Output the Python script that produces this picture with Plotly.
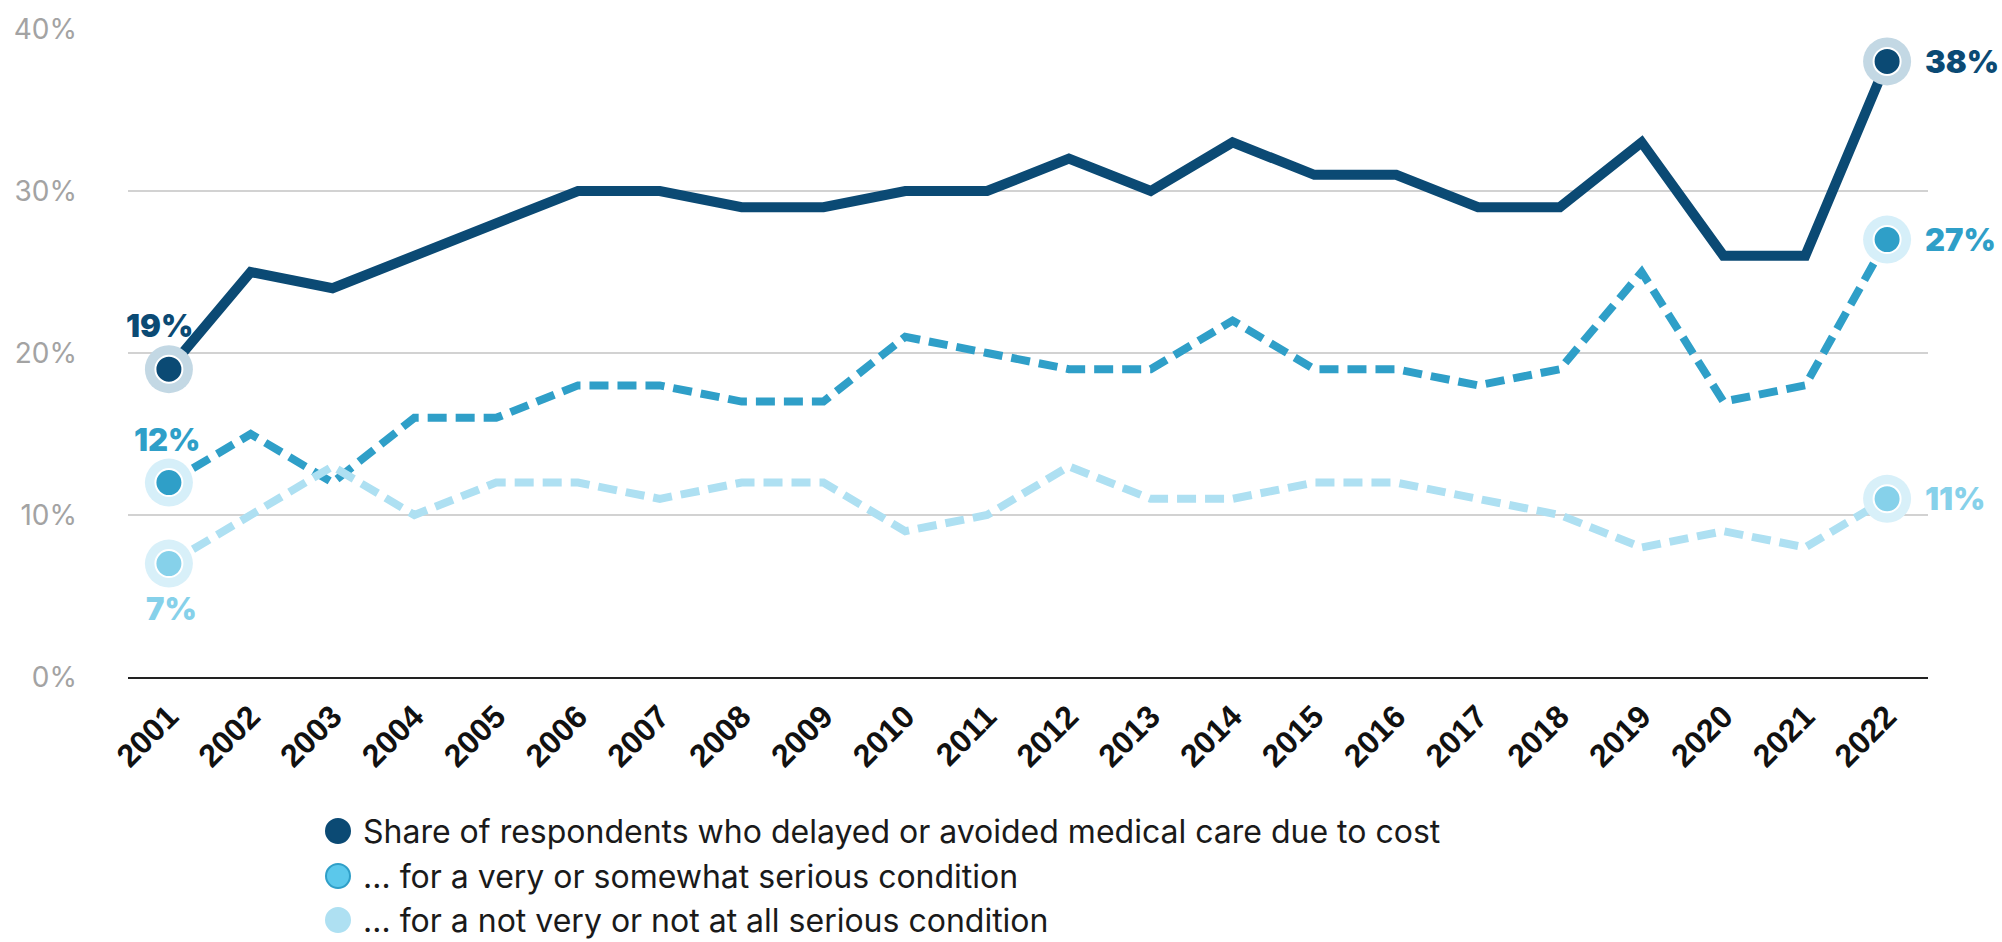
import plotly.graph_objects as go

# Survey years and shares (%) of respondents
years = [str(y) for y in range(2001, 2023)]
overall = [19, 25, 24, 26, 28, 30, 30, 29, 29, 30, 30, 32, 30, 33, 31, 31, 29, 29, 33, 26, 26, 38]
serious = [12, 15, 12, 16, 16, 18, 18, 17, 17, 21, 20, 19, 19, 22, 19, 19, 18, 19, 25, 17, 18, 27]
not_serious = [7, 10, 13, 10, 12, 12, 11, 12, 12, 9, 10, 13, 11, 11, 12, 12, 11, 10, 8, 9, 8, 11]

legend_labels = [
    "Share of respondents who delayed or avoided medical care due to cost",
    "… for a very or somewhat serious condition",
    "… for a not very or not at all serious condition",
]
y_ticks = [0, 10, 20, 30, 40]

DARK, MID, LIGHT = "#0b4a74", "#2f9fc8", "#aee0f2"
series = [
    # values, line colour, dash, width, halo, dot, label colour, first-label offset (dx, dy)
    dict(v=overall, line=DARK, dash="solid", w=10, halo="#c3d8e4", dot=DARK, lab=DARK, first=(-9, 44)),
    dict(v=serious, line=MID, dash="19px,9px", w=8, halo="#d6eff9", dot=MID, lab=MID, first=(-2, 43)),
    dict(v=not_serious, line=LIGHT, dash="19px,9px", w=8, halo="#d8f0f9", dot="#86d1ea", lab="#86d1ea", first=(3, -45)),
]

fig = go.Figure()

# Lines
for s in series:
    fig.add_trace(go.Scatter(
        x=years, y=s["v"], mode="lines", showlegend=False, hoverinfo="skip",
        line=dict(color=s["line"], width=s["w"], dash=s["dash"]), cliponaxis=False,
    ))

# End-point highlights: halo ring plus inner dot
for s in series:
    ends_x = [years[0], years[-1]]
    ends_y = [s["v"][0], s["v"][-1]]
    fig.add_trace(go.Scatter(
        x=ends_x, y=ends_y, mode="markers", showlegend=False, hoverinfo="skip",
        marker=dict(size=48, color=s["halo"], line=dict(width=0)), cliponaxis=False,
    ))
    fig.add_trace(go.Scatter(
        x=ends_x, y=ends_y, mode="markers", showlegend=False, hoverinfo="skip",
        marker=dict(size=27, color=s["dot"], line=dict(width=2, color="white")), cliponaxis=False,
    ))

# Value labels at both ends (category positions given by index)
first_i, last_i = 0, len(years) - 1
label_font = dict(family="Inter", size=31, weight=900)
for s in series:
    dx, dy = s["first"]
    fig.add_annotation(
        x=first_i, y=s["v"][first_i], text=f"{s['v'][first_i]}%", showarrow=False,
        xanchor="center", yanchor="middle", xshift=dx, yshift=dy,
        font=dict(label_font, color=s["lab"]),
    )
    fig.add_annotation(
        x=last_i, y=s["v"][last_i], text=f"{s['v'][last_i]}%", showarrow=False,
        xanchor="left", yanchor="middle", xshift=36,
        font=dict(label_font, color=s["lab"]),
    )

# Legend drawn below the plot: dot + text per row
legend_dots = [
    dict(fill=DARK, edge=DARK),
    dict(fill="#5bc8eb", edge=MID),
    dict(fill=LIGHT, edge=LIGHT),
]
row_offsets = [-154, -199, -243]
for label, dot, off in zip(legend_labels, legend_dots, row_offsets):
    fig.add_shape(
        type="circle", xref="paper", yref="paper", xsizemode="pixel", ysizemode="pixel",
        xanchor=0, yanchor=0, x0=198, x1=222, y0=off - 12, y1=off + 12,
        fillcolor=dot["fill"], line=dict(color=dot["edge"], width=2),
    )
    fig.add_annotation(
        xref="paper", yref="paper", x=0, y=0, xshift=233, yshift=off,
        xanchor="left", yanchor="middle", text=label, showarrow=False,
        font=dict(family="Inter", size=32, color="#1a1a1a"),
    )

fig.update_layout(
    width=2002, height=942,
    margin=dict(l=128, r=74, t=25, b=265, pad=0),
    paper_bgcolor="white", plot_bgcolor="white",
    showlegend=False,
    xaxis=dict(
        type="category", range=[-0.5, 21.5], showgrid=False, zeroline=False,
        showline=True, linecolor="#222", linewidth=2, ticks="outside", ticklen=6, tickcolor="white",
        tickangle=-45, tickfont=dict(family="Liberation Sans", size=32, color="#111", weight="bold"),
    ),
    yaxis=dict(
        range=[0, 40], tickvals=y_ticks, ticktext=[f"{t}%" for t in y_ticks],
        showgrid=True, gridcolor="#d2d2d2", gridwidth=1.5, zeroline=False, showline=False,
        ticks="", ticklabelstandoff=50,
        tickfont=dict(family="Inter", size=28, color="#a3a3a3"),
    ),
)

fig.write_html("out.html")
